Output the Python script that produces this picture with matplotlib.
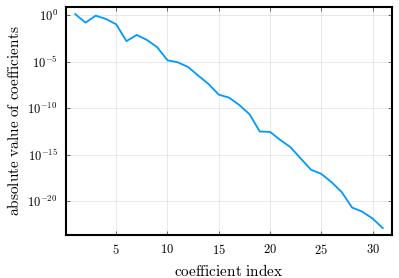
import matplotlib
matplotlib.use("Agg")
import matplotlib.pyplot as plt
import numpy

# coefficient index and log10 of |coefficient|
index = list(range(1, 32))
log_abs_coef = [0.1, -0.82, -0.07, -0.43, -1.0, -2.8, -2.14, -2.68, -3.46, -4.86,
                -5.07, -5.57, -6.5, -7.4, -8.54, -8.86, -9.65, -10.64, -12.5, -12.54,
                -13.4, -14.18, -15.4, -16.6, -17.04, -17.93, -19.0, -20.65, -21.1, -21.83,
                -22.86]
xticks = [5, 10, 15, 20, 25, 30]
yticks_exp = [0, -5, -10, -15, -20]

plt.rcParams['mathtext.fontset'] = 'cm'
plt.rcParams['font.family'] = 'serif'
plt.rcParams['font.serif'] = ['DejaVu Serif']

fig = plt.figure(figsize=(3.99, 2.78), dpi=100)
ax = fig.add_axes([66 / 399, 43 / 278, 326 / 399, 228 / 278])

ax.plot(index, 10.0 ** numpy.array(log_abs_coef), color='#009AFA', lw=1.3)
ax.set_yscale('log')
ax.set_xlim(0.1, 31.9)
ax.set_ylim(10 ** -23.6, 10 ** 0.86)

ax.set_xticks(xticks)
ax.set_xticklabels(['$%d$' % t for t in xticks])
ax.set_yticks([10.0 ** e for e in yticks_exp])
ax.set_yticklabels(['$10^{%d}$' % e for e in yticks_exp])
ax.yaxis.set_minor_locator(matplotlib.ticker.NullLocator())

ax.grid(True, color='black', alpha=0.1, lw=0.6)
ax.tick_params(direction='in', length=3, width=0.6, color='#555555',
               top=True, right=True, labelsize=9, pad=6)
for s in ax.spines.values():
    s.set_linewidth(1.5)

ax.set_xlabel(r'$\mathrm{coefficient\ index}$', fontsize=11, labelpad=4)
ax.set_ylabel(r'$\mathrm{absolute\ value\ of\ coefficients}$', fontsize=11, labelpad=4)

fig.savefig('out.png', dpi=100)
